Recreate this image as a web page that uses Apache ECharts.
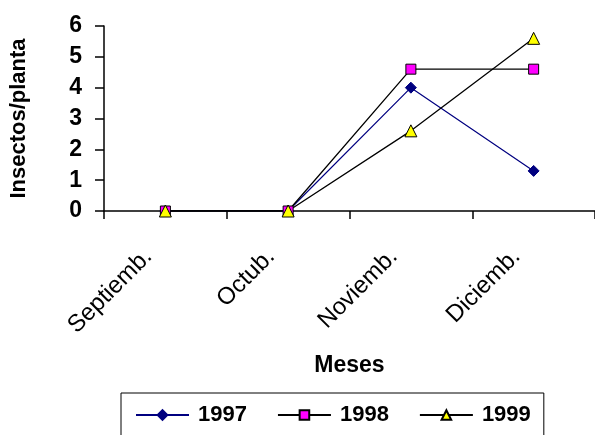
<!DOCTYPE html>
<html>
<head>
<meta charset="utf-8">
<script src="https://cdn.jsdelivr.net/npm/echarts@6/dist/echarts.min.js"></script>
<style>
  html, body { margin: 0; padding: 0; background: #fff; }
  #chart { width: 595px; height: 435px; }
</style>
</head>
<body>
<div id="chart"></div>
<script>
// Monthly insect counts per plant, three seasons
const months = ['Septiemb.', 'Octub.', 'Noviemb.', 'Diciemb.'];
const y1997 = [0, 0, 4.0, 1.3];
const y1998 = [0, 0, 4.6, 4.6];
const y1999 = [0, 0, 2.6, 5.6];
const yTicks = [0, 1, 2, 3, 4, 5, 6];

const FONT = '"Liberation Sans", Arial, sans-serif';

const chart = echarts.init(document.getElementById('chart'), null, { renderer: 'canvas' });

chart.setOption({
  backgroundColor: '#ffffff',
  animation: false,
  grid: { left: 103, top: 26, width: 496, height: 185, containLabel: false },
  legend: {
    data: ['1997', '1998', '1999'],
    left: 121,
    top: 393,
    padding: [11, 13, 40, 14],
    itemGap: 30,
    itemWidth: 53,
    itemHeight: 12,
    borderColor: '#000',
    borderWidth: 1,
    borderRadius: 0,
    textStyle: { fontFamily: FONT, fontSize: 22, fontWeight: 'bold', color: '#000', padding: [0, 0, 0, 4] }
  },
  xAxis: {
    type: 'category',
    data: months,
    boundaryGap: true,
    name: 'Meses',
    nameLocation: 'middle',
    nameGap: 143,
    nameTextStyle: { fontFamily: FONT, fontSize: 23, fontWeight: 'bold', color: '#000' },
    axisLine: { lineStyle: { color: '#000', width: 1.5 } },
    axisTick: { show: true, inside: false, length: 8, lineStyle: { color: '#000', width: 1.5 } },
    axisLabel: {
      rotate: 45,
      margin: 25,
      padding: [0, 24, 0, 0],
      fontFamily: FONT,
      fontSize: 24,
      color: '#000'
    },
    splitLine: { show: false }
  },
  yAxis: {
    type: 'value',
    min: yTicks[0],
    max: yTicks[yTicks.length - 1],
    interval: 1,
    name: 'Insectos/planta',
    nameLocation: 'middle',
    nameRotate: 90,
    nameGap: 74,
    nameTextStyle: { fontFamily: FONT, fontSize: 22, fontWeight: 'bold', color: '#000' },
    axisLine: { show: true, lineStyle: { color: '#000', width: 1.5 } },
    axisTick: { show: true, inside: false, length: 9, lineStyle: { color: '#000', width: 1.5 } },
    axisLabel: {
      margin: 22,
      fontFamily: FONT,
      fontSize: 23,
      fontWeight: 'bold',
      color: '#000'
    },
    splitLine: { show: false }
  },
  series: [
    {
      name: '1997',
      type: 'line',
      data: y1997,
      symbol: 'diamond',
      symbolSize: 11,
      lineStyle: { color: '#000080', width: 1.2 },
      itemStyle: { color: '#000080', borderColor: '#000080', borderWidth: 1 }
    },
    {
      name: '1998',
      type: 'line',
      data: y1998,
      symbol: 'rect',
      symbolSize: 10,
      lineStyle: { color: '#000', width: 1.3 },
      itemStyle: { color: '#ff00ff', borderColor: '#000', borderWidth: 1 }
    },
    {
      name: '1999',
      type: 'line',
      data: y1999,
      symbol: 'triangle',
      symbolSize: 12,
      lineStyle: { color: '#000', width: 1.3 },
      itemStyle: { color: '#ffff00', borderColor: '#000', borderWidth: 1 }
    }
  ]
});
</script>
</body>
</html>
